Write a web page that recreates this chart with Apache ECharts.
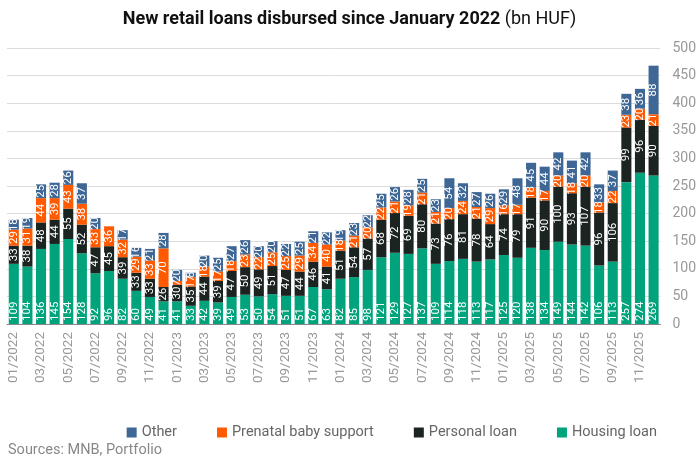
<!DOCTYPE html>
<html><head><meta charset="utf-8">
<script src="https://cdn.jsdelivr.net/npm/echarts@6/dist/echarts.min.js"></script>
<style>html,body{margin:0;padding:0;background:#fff}#c{width:699px;height:467px}</style>
</head><body><div id="c"></div>
<script>
const months = [];
for (const y of [2022, 2023, 2024, 2025]) for (let m = 1; m <= 12; m++) months.push(String(m).padStart(2,'0') + '/' + y);

const housing  = [109,104,136,145,154,128,92,96,82,60,49,41, 41,33,42,39,49,53,50,54,51,51,67,63, 82,85,98,121,129,127,137,109,114,118,113,117, 125,120,138,134,149,144,142,106,113,257,274,269];
const personal = [33,38,48,44,55,52,47,45,39,33,33,26, 30,35,44,39,47,50,49,51,47,44,46,41, 51,54,57,68,72,69,80,73,76,81,78,64, 74,79,91,90,100,93,107,96,106,99,96,90];
const prenatal = [29,31,44,39,43,38,33,36,32,29,33,70, 7,17,18,17,18,23,22,25,25,29,34,40, 18,21,20,22,21,19,21,21,20,24,21,29, 16,17,18,17,20,18,20,18,22,23,20,21];
const other    = [18,19,25,28,26,37,20,0,17,16,21,28, 20,8,20,25,27,26,20,20,22,25,21,22, 19,23,22,25,26,28,25,23,54,32,27,26, 29,48,45,44,42,41,42,33,37,38,36,88];

const yTicks = { min: 0, max: 500, interval: 50 };

const chart = echarts.init(document.getElementById('c'));
const lbl = {
  show: true, position: 'inside', rotate: 90, color: '#fff', fontSize: 11.5,
  fontFamily: 'Roboto', formatter: p => (p.value ? p.value : '')
};
function mk(name, data, color, label) {
  return { name, type: 'bar', stack: 'a', data, barCategoryGap: '26%',
    itemStyle: { color }, label: label || lbl, emphasis: { disabled: true } };
}
chart.setOption({
  animation: false,
  textStyle: { fontFamily: 'Roboto' },
  title: {
    text: '{b|New retail loans disbursed since January 2022} {n|(bn HUF)}',
    left: 'center', top: 5,
    textStyle: { rich: {
      b: { fontSize: 18, fontWeight: 'bold', color: '#111', fontFamily: 'Roboto' },
      n: { fontSize: 18, fontWeight: 'normal', color: '#111', fontFamily: 'Roboto' }
    } }
  },
  legend: {
    bottom: 22, right: 37, itemGap: 40, itemWidth: 10, itemHeight: 10, icon: 'rect',
    textStyle: { color: '#666', fontSize: 14.5, fontFamily: 'Roboto' },
    data: ['Other', 'Prenatal baby support', 'Personal loan', 'Housing loan']
  },
  graphic: [{ type: 'text', left: 8, top: 443,
    style: { text: 'Sources: MNB, Portfolio', fill: '#888', fontSize: 14.5, fontFamily: 'Roboto' } }],
  grid: { left: 7, right: 38, top: 48, bottom: 143 },
  xAxis: {
    type: 'category', data: months,
    axisLine: { lineStyle: { color: '#888' } }, axisTick: { show: false },
    axisLabel: { rotate: 90, interval: 1, color: '#999', fontSize: 13.5, margin: 8 }
  },
  yAxis: {
    type: 'value', position: 'right', min: yTicks.min, max: yTicks.max, interval: yTicks.interval,
    axisLine: { show: false }, axisTick: { show: false },
    axisLabel: { color: '#999', fontSize: 14, margin: 12 },
    splitLine: { lineStyle: { color: '#dcdcdc' } }
  },
  series: [
    mk('Housing loan', housing, '#00a37c', Object.assign({}, lbl, { position: 'insideBottom', align: 'left', verticalAlign: 'middle', distance: 3 })),
    mk('Personal loan', personal, '#1b2421'),
    mk('Prenatal baby support', prenatal, '#ff5a00'),
    mk('Other', other, '#3f6795')
  ]
});
</script></body></html>
